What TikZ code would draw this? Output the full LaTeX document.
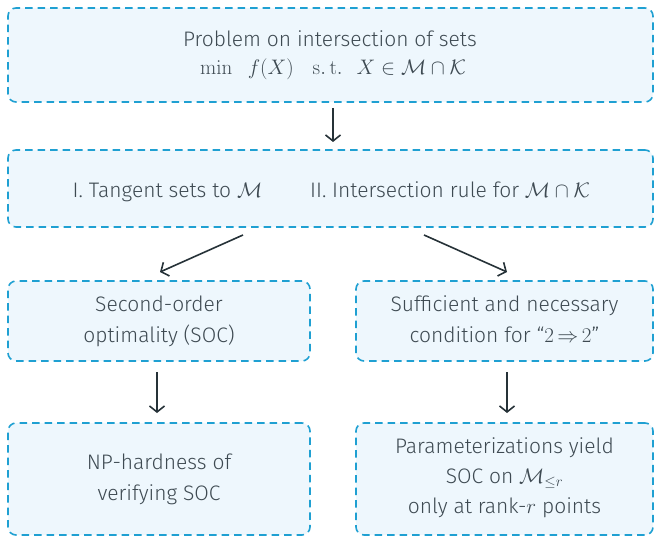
\RequirePackage{fix-cm}
\documentclass[tikz,border=0pt]{standalone}
\usepackage{amsmath,amssymb}
\usepackage[no-math]{fontspec}
\setmainfont{Fira Sans Light}
\usetikzlibrary{arrows.meta}
\definecolor{boxline}{HTML}{1FA0D2}
\definecolor{boxfill}{HTML}{EEF7FD}
\definecolor{txt}{HTML}{3E4A52}
\definecolor{arr}{HTML}{263238}
\tikzset{
  box/.style={draw=boxline, fill=boxfill, line width=1.6pt, dash pattern=on 7.5pt off 5pt,
    rounded corners=8pt, inner sep=0pt},
  lbl/.style={text=txt, align=center, inner sep=0pt, font=\fontsize{21}{31}\selectfont},
  conn/.style={draw=arr, line width=1.6pt, -{Straight Barb[length=6pt,width=15pt,line width=1.6pt]}}
}
\begin{document}
\begin{tikzpicture}[x=1pt,y=-1pt]
\useasboundingbox (0,0) rectangle (655,537);
% boxes
\node[box, minimum width=645pt, minimum height=94pt] (top) at (330.5,55) {};
\node[box, minimum width=645pt, minimum height=77pt] (mid) at (330.5,188.5) {};
\node[box, minimum width=302pt, minimum height=80pt] (l2) at (159,321) {};
\node[box, minimum width=297pt, minimum height=80pt] (r2) at (504.5,321) {};
\node[box, minimum width=302pt, minimum height=112pt] (l3) at (159,479) {};
\node[box, minimum width=297pt, minimum height=112pt] (r3) at (504.5,479) {};
% texts
\node[lbl, anchor=base] (ttop1) at (330,47) {Problem on intersection of sets};
\node[lbl, anchor=base] (ttop2) at (333,75) {$\min\hspace{12pt} f(X)\hspace{19pt} \mathrm{s.\,t.}\hspace{14pt} X\in\mathcal{M}\cap\mathcal{K}$};
\node[lbl, anchor=base] (tm1) at (167.5,198) {I. Tangent sets to $\mathcal{M}$};
\node[lbl, anchor=base] (tm2) at (450,198) {II. Intersection rule for $\mathcal{M}\cap\mathcal{K}$};
\node[lbl, anchor=base] (tl2a) at (159,311) {Second-order};
\node[lbl, anchor=base] (tl2b) at (159,342) {optimality (SOC)};
\node[lbl, anchor=base] (tr2a) at (504.5,311) {Sufficient and necessary};
\node[lbl, anchor=base] (tr2b) at (504.5,342) {condition for “$2\,{\Rightarrow}\,2$”};
\node[lbl, anchor=base] (tl3a) at (159,469) {NP-hardness of};
\node[lbl, anchor=base] (tl3b) at (159,500) {verifying SOC};
\node[lbl, anchor=base] (tr3a) at (504.5,453) {Parameterizations yield};
\node[lbl, anchor=base] (tr3b) at (504.5,483) {SOC on $\mathcal{M}_{\le r}$};
\node[lbl, anchor=base] (tr3c) at (504.5,513) {only at rank-$r$ points};
% connector ends
\coordinate (a1s) at (333,108); \coordinate (a1e) at (333,142);
\coordinate (a2s) at (243,235); \coordinate (a2e) at (160,272);
\coordinate (a3s) at (424,235); \coordinate (a3e) at (507,272);
\coordinate (a4s) at (157,372); \coordinate (a4e) at (157,413);
\coordinate (a5s) at (507,372); \coordinate (a5e) at (507,413);
\draw[conn] (a1s) -- (a1e);
\draw[conn] (a2s) -- (a2e);
\draw[conn] (a3s) -- (a3e);
\draw[conn] (a4s) -- (a4e);
\draw[conn] (a5s) -- (a5e);
\end{tikzpicture}
\end{document}
